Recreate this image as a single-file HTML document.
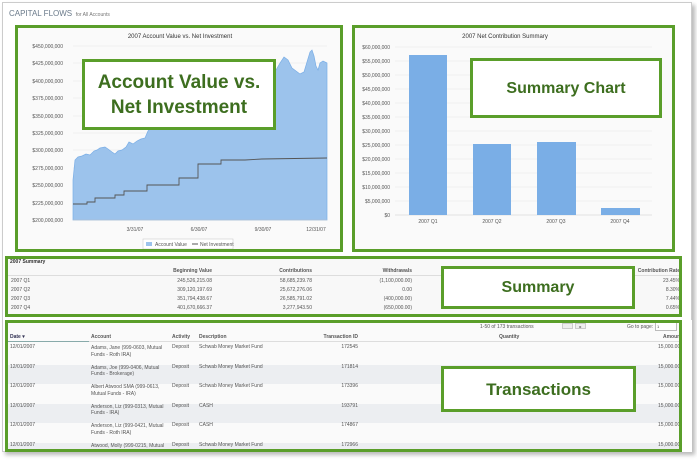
<!DOCTYPE html>
<html><head><meta charset="utf-8"><style>
*{margin:0;padding:0;box-sizing:border-box}
body{width:697px;height:461px;background:#fff;font-family:"Liberation Sans",sans-serif;position:relative;overflow:hidden;color:#444}
.a{position:absolute;white-space:nowrap}
.g{position:absolute;border:3px solid #5a9e2a}
.c{position:absolute;background:#fff;border:3px solid #5a9e2a;color:#3d6e1f;font-weight:bold;text-align:center;display:flex;align-items:center;justify-content:center;line-height:25px}
.s{font-size:5px;color:#555}
.r{text-align:right}
</style></head><body>
<div class="a" style="left:2px;top:2px;width:690px;height:450px;border:1px solid #ccc;box-shadow:3px 3px 4px #bbb;background:#fff"></div>
<div class="a" style="left:9px;top:9px;font-size:8px;color:#6a7a8a">CAPITAL FLOWS <span style="font-size:5px;color:#777">&nbsp;for All Accounts</span></div>

<div class="a" style="left:18px;top:28px;width:322px;height:221px;background:#fafafa"></div>
<div class="a" style="left:355px;top:28px;width:317px;height:221px;background:#fafafa"></div>

<svg class="a" style="left:0;top:0" width="697" height="461">
<g font-family="Liberation Sans" font-size="5" fill="#555">
<text x="180" y="38" text-anchor="middle" font-size="6" fill="#333">2007 Account Value vs. Net Investment</text>
<g text-anchor="end">
<text x="63" y="48">$450,000,000</text><text x="63" y="65">$425,000,000</text><text x="63" y="83">$400,000,000</text><text x="63" y="100">$375,000,000</text><text x="63" y="118">$350,000,000</text><text x="63" y="135">$325,000,000</text><text x="63" y="152">$300,000,000</text><text x="63" y="170">$275,000,000</text><text x="63" y="187">$250,000,000</text><text x="63" y="205">$225,000,000</text><text x="63" y="222">$200,000,000</text>
</g>
<g stroke="#e6e6e6" stroke-width="0.6">
<line x1="73" y1="46" x2="327" y2="46"/><line x1="73" y1="63" x2="327" y2="63"/><line x1="73" y1="81" x2="327" y2="81"/><line x1="73" y1="98" x2="327" y2="98"/><line x1="73" y1="116" x2="327" y2="116"/><line x1="73" y1="133" x2="327" y2="133"/><line x1="73" y1="150" x2="327" y2="150"/><line x1="73" y1="168" x2="327" y2="168"/><line x1="73" y1="185" x2="327" y2="185"/><line x1="73" y1="203" x2="327" y2="203"/>
</g>
<path d="M73,220 L73,180 L75,160 L78,157 L82,156 L86,154 L90,155 L94,151 L97,150 L100,148 L105,147 L108,149 L112,152 L115,154 L118,151 L122,150 L126,147 L129,142 L133,144 L137,141 L141,139 L145,138 L148,131 L151,128 L156,125 L162,122 L170,118 L180,112 L190,108 L200,104 L210,100 L220,95 L230,90 L240,85 L250,80 L260,76 L270,72 L276,70 L280,63 L284,57 L288,60 L292,68 L296,71 L300,74 L304,72 L307,62 L310,52 L312,50 L314,56 L316,66 L318,70 L320,63 L323,61 L327,63 L327,220 Z" fill="#9cc3ec" stroke="#7aaee6" stroke-width="0.7"/>
<path d="M73,204 L87,204 L87,202 L95,202 L95,198 L115,198 L115,195 L124,195 L124,191 L147,191 L147,185 L179,185 L179,178 L198,178 L198,164 L221,164 L221,160 L245,160 L262,159 L327,158" fill="none" stroke="#555" stroke-width="0.9"/>
<line x1="73" y1="220" x2="327" y2="220" stroke="#ccc" stroke-width="0.6"/>
<text x="135" y="231" text-anchor="middle">3/31/07</text><text x="199" y="231" text-anchor="middle">6/30/07</text><text x="263" y="231" text-anchor="middle">9/30/07</text><text x="316" y="231" text-anchor="middle">12/31/07</text>
<rect x="143" y="239" width="90" height="10" fill="#fff" stroke="#ccc" stroke-width="0.6"/>
<rect x="146" y="242" width="6" height="4" fill="#9cc3ec"/><text x="155" y="246">Account Value</text>
<line x1="192" y1="244" x2="198" y2="244" stroke="#555"/><text x="200" y="246">Net Investment</text>

<text x="505" y="38" text-anchor="middle" font-size="6" fill="#333">2007 Net Contribution Summary</text>
<g text-anchor="end">
<text x="390" y="49">$60,000,000</text><text x="390" y="63">$55,000,000</text><text x="390" y="77">$50,000,000</text><text x="390" y="91">$45,000,000</text><text x="390" y="105">$40,000,000</text><text x="390" y="119">$35,000,000</text><text x="390" y="133">$30,000,000</text><text x="390" y="147">$25,000,000</text><text x="390" y="161">$20,000,000</text><text x="390" y="175">$15,000,000</text><text x="390" y="189">$10,000,000</text><text x="390" y="203">$5,000,000</text><text x="390" y="217">$0</text>
</g>
<g stroke="#e6e6e6" stroke-width="0.6">
<line x1="395" y1="47" x2="652" y2="47"/><line x1="395" y1="61" x2="652" y2="61"/><line x1="395" y1="75" x2="652" y2="75"/><line x1="395" y1="89" x2="652" y2="89"/><line x1="395" y1="103" x2="652" y2="103"/><line x1="395" y1="117" x2="652" y2="117"/><line x1="395" y1="131" x2="652" y2="131"/><line x1="395" y1="145" x2="652" y2="145"/><line x1="395" y1="159" x2="652" y2="159"/><line x1="395" y1="173" x2="652" y2="173"/><line x1="395" y1="187" x2="652" y2="187"/><line x1="395" y1="201" x2="652" y2="201"/>
</g>
<line x1="395" y1="215" x2="652" y2="215" stroke="#ccc" stroke-width="0.6"/>
<g fill="#7aaee6"><rect x="409" y="55" width="38" height="160"/><rect x="473" y="144" width="38" height="71"/><rect x="537" y="142" width="39" height="73"/><rect x="601" y="208" width="39" height="7"/></g>
<text x="428" y="223" text-anchor="middle">2007 Q1</text><text x="492" y="223" text-anchor="middle">2007 Q2</text><text x="556" y="223" text-anchor="middle">2007 Q3</text><text x="620" y="223" text-anchor="middle">2007 Q4</text>
</g>
</svg>

<div class="g" style="left:15px;top:25px;width:328px;height:227px"></div>
<div class="g" style="left:352px;top:25px;width:323px;height:227px"></div>
<div class="c" style="left:82px;top:59px;width:194px;height:71px;font-size:19px">Account Value vs.<br>Net Investment</div>
<div class="c" style="left:470px;top:58px;width:192px;height:60px;font-size:16px">Summary Chart</div>

<!-- summary -->
<div class="a" style="left:8px;top:259px;width:671px;height:56px;background:#f8f8f8"></div>
<div class="a" style="left:8px;top:275px;width:671px;height:1px;background:#ddd"></div>
<div class="a s" style="left:10px;top:259px;font-weight:bold;color:#333">2007 Summary</div>
<div class="a s r" style="left:112px;top:268px;width:100px;font-weight:bold">Beginning Value</div>
<div class="a s r" style="left:212px;top:268px;width:100px;font-weight:bold">Contributions</div>
<div class="a s r" style="left:312px;top:268px;width:100px;font-weight:bold">Withdrawals</div>
<div class="a s r" style="left:580px;top:268px;width:100px;font-weight:bold">Contribution Rate</div>
<div class="a s" style="left:11px;top:277px;line-height:9px">2007 Q1<br>2007 Q2<br>2007 Q3<br>2007 Q4</div>
<div class="a s r" style="left:112px;top:277px;width:100px;line-height:9px">245,526,215.08<br>309,120,197.69<br>351,794,438.67<br>401,670,666.37</div>
<div class="a s r" style="left:212px;top:277px;width:100px;line-height:9px">58,685,239.78<br>25,672,276.06<br>26,585,791.02<br>3,277,943.50</div>
<div class="a s r" style="left:312px;top:277px;width:100px;line-height:9px">(1,100,000.00)<br>0.00<br>(400,000.00)<br>(650,000.00)</div>
<div class="a s r" style="left:580px;top:277px;width:100px;line-height:9px">23.45%<br>8.30%<br>7.44%<br>0.65%</div>
<div class="g" style="left:5px;top:256px;width:677px;height:61px"></div>
<div class="c" style="left:441px;top:266px;width:194px;height:43px;font-size:16px">Summary</div>

<!-- transactions -->
<div class="a" style="left:8px;top:323px;width:674px;height:128px;background:#fafafa"></div>
<div class="a s" style="left:480px;top:324px">1-50 of 173 transactions</div>
<div class="a" style="left:562px;top:323px;width:11px;height:6px;border:1px solid #ccc;background:#eee"></div>
<div class="a" style="left:575px;top:323px;width:11px;height:6px;border:1px solid #ccc;background:#eee;font-size:4px;text-align:center">▸</div>
<div class="a s" style="left:627px;top:324px">Go to page:</div>
<div class="a" style="left:655px;top:322px;width:22px;height:9px;border:1px solid #bbb;background:#fff;font-size:4px;padding:1px">1</div>
<div class="a" style="left:8px;top:341px;width:674px;height:1px;background:#ddd"></div>
<div class="a" style="left:8px;top:341px;width:81px;height:1px;background:#8aa"></div>
<div class="a s" style="left:10px;top:334px;font-weight:bold;color:#335">Date ▾</div>
<div class="a s" style="left:91px;top:334px;font-weight:bold">Account</div>
<div class="a s" style="left:172px;top:334px;font-weight:bold">Activity</div>
<div class="a s" style="left:199px;top:334px;font-weight:bold">Description</div>
<div class="a s r" style="left:258px;top:334px;width:100px;font-weight:bold">Transaction ID</div>
<div class="a s" style="left:499px;top:334px;font-weight:bold">Quantity</div>
<div class="a s" style="left:663px;top:334px;font-weight:bold">Amount</div>
<div class="a" style="left:8px;top:365px;width:674px;height:19px;background:#eceef1"></div>
<div class="a" style="left:8px;top:404px;width:674px;height:19px;background:#eceef1"></div>
<div class="a" style="left:8px;top:443px;width:674px;height:8px;background:#eceef1"></div>
<div class="a s" style="left:10px;top:345px;line-height:5.5px">
<div style="height:19.5px">12/01/2007</div><div style="height:19.5px">12/01/2007</div><div style="height:19.5px">12/01/2007</div><div style="height:19.5px">12/01/2007</div><div style="height:19.5px">12/01/2007</div><div>12/01/2007</div></div>
<div class="a s" style="left:91px;top:345px;line-height:6.5px">
<div style="height:19.5px">Adams, Jane (999-0603, Mutual<br>Funds - Roth IRA)</div><div style="height:19.5px">Adams, Joe (999-0406, Mutual<br>Funds - Brokerage)</div><div style="height:19.5px">Albert Atwood SMA (999-0613,<br>Mutual Funds - IRA)</div><div style="height:19.5px">Anderson, Liz (999-0313, Mutual<br>Funds - IRA)</div><div style="height:19.5px">Anderson, Liz (999-0421, Mutual<br>Funds - Roth IRA)</div><div>Atwood, Molly (999-0215, Mutual</div></div>
<div class="a s" style="left:172px;top:345px;line-height:5.5px">
<div style="height:19.5px">Deposit</div><div style="height:19.5px">Deposit</div><div style="height:19.5px">Deposit</div><div style="height:19.5px">Deposit</div><div style="height:19.5px">Deposit</div><div>Deposit</div></div>
<div class="a s" style="left:199px;top:345px;line-height:5.5px">
<div style="height:19.5px">Schwab Money Market Fund</div><div style="height:19.5px">Schwab Money Market Fund</div><div style="height:19.5px">Schwab Money Market Fund</div><div style="height:19.5px">CASH</div><div style="height:19.5px">CASH</div><div>Schwab Money Market Fund</div></div>
<div class="a s r" style="left:258px;top:345px;width:100px;line-height:5.5px">
<div style="height:19.5px">172545</div><div style="height:19.5px">171814</div><div style="height:19.5px">173396</div><div style="height:19.5px">193791</div><div style="height:19.5px">174867</div><div>172966</div></div>
<div class="a s" style="left:658px;top:345px;line-height:5.5px">
<div style="height:19.5px">15,000.00</div><div style="height:19.5px">15,000.00</div><div style="height:19.5px">15,000.00</div><div style="height:19.5px">15,000.00</div><div style="height:19.5px">15,000.00</div><div>15,000.00</div></div>
<div class="a" style="left:682px;top:320px;width:10px;height:132px;background:#fff"></div>
<div class="g" style="left:5px;top:320px;width:677px;height:132px"></div>
<div class="c" style="left:441px;top:366px;width:195px;height:46px;font-size:17px">Transactions</div>
</body></html>
